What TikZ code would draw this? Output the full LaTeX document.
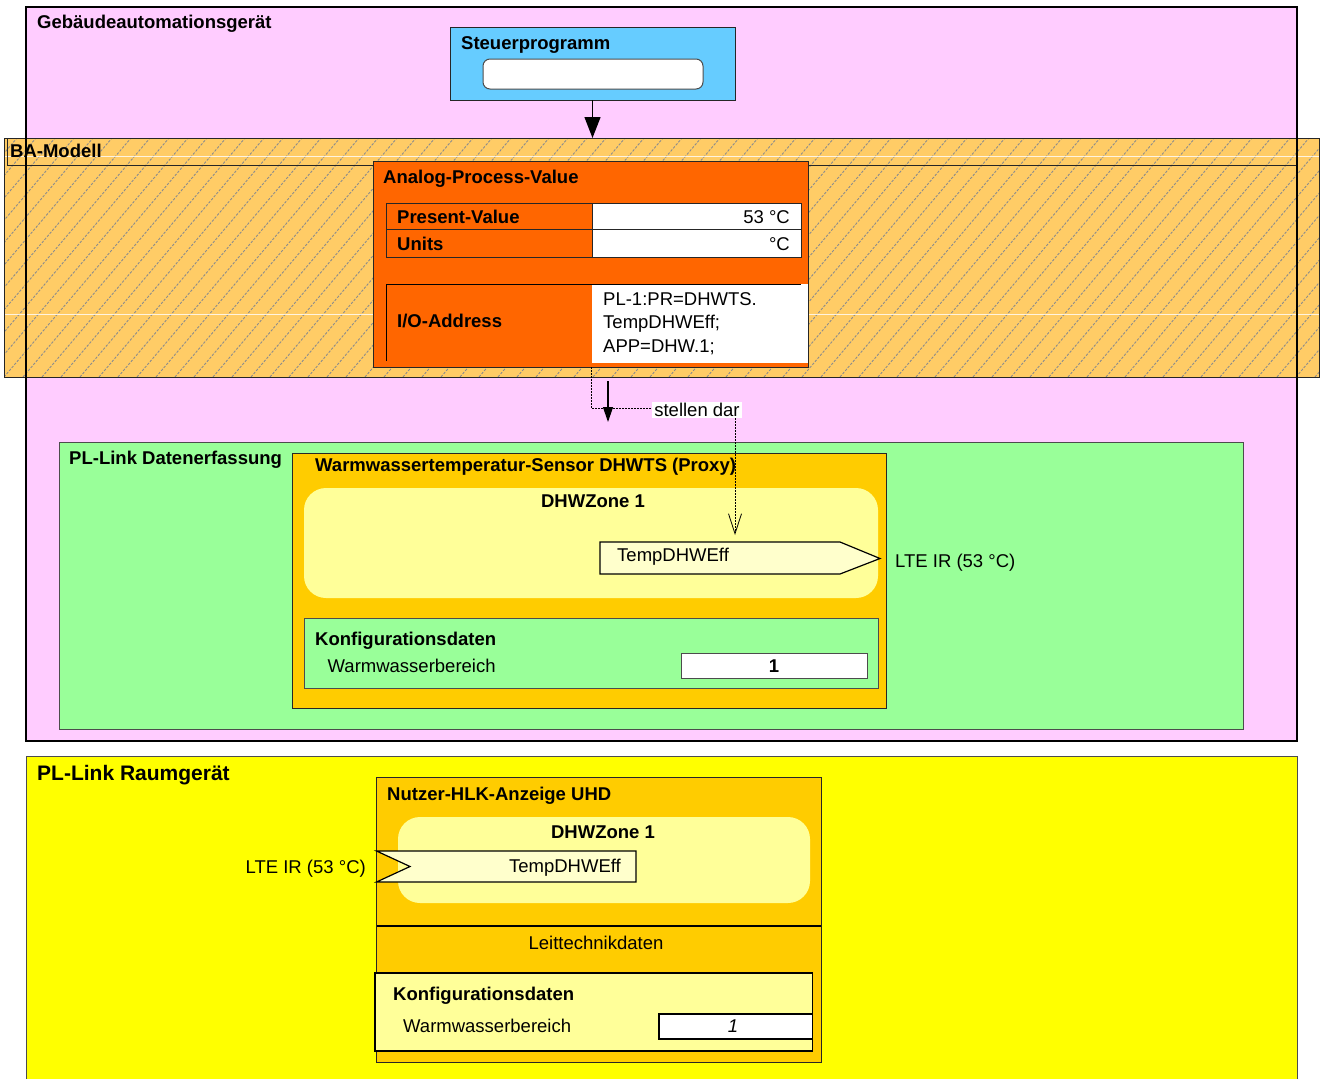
\documentclass[tikz,border=0pt]{standalone}
\usepackage{fontspec}
\setmainfont{Liberation Sans}
\usetikzlibrary{arrows.meta}
\definecolor{gapink}{HTML}{FFCCFF}
\definecolor{progblue}{HTML}{66CCFF}
\definecolor{bamorange}{HTML}{FFCC66}
\definecolor{apvorange}{HTML}{FF6600}
\definecolor{plgreen}{HTML}{99FF99}
\definecolor{devorange}{HTML}{FFCC00}
\definecolor{zoneyellow}{HTML}{FFFF99}
\definecolor{dpyellow}{HTML}{FFFFCC}
\definecolor{roomyellow}{HTML}{FFFF00}
\begin{document}
\begin{tikzpicture}[x=1pt,y=-1pt,
  font=\fontsize{18.5}{22}\selectfont,
  box/.style={draw=black!85, line width=1pt, inner sep=0pt, outer sep=0pt, anchor=north west},
  plain/.style={inner sep=0pt, outer sep=0pt, anchor=north west},
  txt/.style={inner sep=0pt, anchor=base west},
  btxt/.style={inner sep=0pt, anchor=base west, font=\fontsize{18.5}{22}\selectfont\bfseries},
  hatch/.style={draw=black!45, line width=0.9pt, dash pattern=on 2.5pt off 1.5pt},
  dp/.style={draw=black, line width=1.2pt, fill=dpyellow, line join=miter}]
\useasboundingbox (0,0) rectangle (1320,1079);

% ---------- building automation device ----------
\node[plain, fill=gapink, minimum width=1271pt, minimum height=734pt] (ga) at (26,7) {};
\node[btxt] (gatitle) at (37,28) {Gebäudeautomationsgerät};

% control program
\node[box, fill=progblue, minimum width=285pt, minimum height=73pt] (steuer) at (450,27) {};
\node[btxt] (steuertitle) at (461,49) {Steuerprogramm};
\node[box, draw=black!70, fill=white, rounded corners=7pt, minimum width=220pt, minimum height=30pt] (steuerslot) at (483,59) {};

% ---------- BA model band (hatched) ----------
\node[plain, fill=bamorange, minimum width=1315pt, minimum height=239pt] (bam) at (4,138) {};
\begin{scope}
  \clip (4,138) rectangle (1319,377);
  \foreach \i in {-300,-281,...,1320}
    \draw[hatch] (\i,377) -- ++(203,-239);
\end{scope}
\draw[white, opacity=0.8, line width=1pt] (4,156) -- (1319,156);
\draw[white, opacity=0.8, line width=1pt] (4,314) -- (1319,314);
\draw[black!85, line width=1pt] (bam.north west) rectangle (bam.south east);
\node[box, fill=none, minimum width=1290pt, minimum height=27pt] (bamhead) at (7,138) {};
\node[btxt] (bamtitle) at (10,157) {BA-Modell};

% outline of the device frame runs over the band
\draw[black, line width=1.2pt] (ga.north west) rectangle (ga.south east);

\draw[line width=1.3pt, -{Triangle[length=21pt,width=16pt]}] (steuer.south) -- (steuer.south |- bam.north);

% analog process value object
\node[box, fill=apvorange, minimum width=435pt, minimum height=206pt] (apv) at (373,161) {};
\node[btxt] (apvtitle) at (383,183) {Analog-Process-Value};
\node[box, fill=apvorange, minimum width=206pt, minimum height=26pt] (pvlab) at (386,203) {};
\node[box, fill=white, minimum width=209pt, minimum height=26pt] (pvval) at (592,203) {};
\node[box, fill=apvorange, minimum width=206pt, minimum height=28pt] (unlab) at (386,229) {};
\node[box, fill=white, minimum width=209pt, minimum height=28pt] (unval) at (592,229) {};
\node[btxt] at (397,223) {Present-Value};
\node[txt, anchor=base east] at (790,223) {53 °C};
\node[btxt] at (397,250) {Units};
\node[txt, anchor=base east] at (790,250) {°C};
\node[plain, fill=white, minimum width=216pt, minimum height=79pt] (ioval) at (592,284) {};
\draw[black, line width=1pt] (386,361) -- (386,284) -- (801,284);
\node[btxt] (iolab) at (397,327) {I/O-Address};
\node[txt] at (603,305) {PL-1:PR=DHWTS.};
\node[txt] at (603,328) {TempDHWEff;};
\node[txt] at (603,352) {APP=DHW.1;};

% ---------- PL-Link data acquisition ----------
\node[box, draw=black!70, fill=plgreen, minimum width=1184pt, minimum height=287pt] (pl) at (59,442) {};
\node[btxt] (pltitle) at (69,464) {PL-Link Datenerfassung};

\node[box, fill=devorange, minimum width=594pt, minimum height=255pt] (proxy) at (292,453) {};
\node[btxt] (proxytitle) at (315,471) {Warmwassertemperatur-Sensor DHWTS (Proxy)};
\node[plain, fill=zoneyellow, rounded corners=22pt, minimum width=574pt, minimum height=110pt] (zone1) at (304,488) {};
\node[btxt, anchor=base] at (593,507) {DHWZone 1};
\draw[dp] (600,542) -- (840,542) -- (880,558.5) -- (840,574) -- (600,574) -- cycle;
\coordinate (dpout) at (880,558.5);
\node[txt] (dpouttext) at (617,561) {TempDHWEff};
\node[txt] (ltetop) at (895,567) {LTE IR (53 °C)};

\node[box, draw=black!70, fill=plgreen, minimum width=573.5pt, minimum height=70pt] (konf1) at (304.5,618) {};
\node[btxt] at (315,645) {Konfigurationsdaten};
\node[txt] at (327.5,672) {Warmwasserbereich};
\node[box, draw=black!70, fill=white, minimum width=186pt, minimum height=25pt] (konf1val) at (681,653) {};
\node[btxt, anchor=base] at (774,672) {1};

% connectors between BA model and proxy
\coordinate (arrA) at (608,381);
\coordinate (arrB) at (608,422);
\draw[line width=1.3pt, -{Triangle[length=15pt,width=10pt]}] (arrA) -- (arrB);

\coordinate (dotA) at (591,367);
\coordinate (dotB) at (735,535);
\draw[line width=0.8pt, dash pattern=on 1.5pt off 1.5pt,
      -{Straight Barb[length=20pt,width=13pt,line width=0.8pt]}]
  (dotA) -- (591,408) -- (735,408) -- (dotB);
\node[fill=white, inner xsep=2pt, inner ysep=1.5pt] (reprlabel) at (697,410) {stellen dar};

% ---------- PL-Link room unit ----------
\node[box, draw=black!70, fill=roomyellow, minimum width=1271pt, minimum height=340pt] (room) at (26,756) {};
\node[inner sep=0pt, anchor=base west, font=\fontsize{21}{25}\selectfont\bfseries] (roomtitle) at (37,780) {PL-Link Raumgerät};

\node[box, fill=devorange, minimum width=444.5pt, minimum height=285pt] (uhd) at (376.5,777) {};
\node[btxt] (uhdtitle) at (387,800) {Nutzer-HLK-Anzeige UHD};
\node[plain, fill=zoneyellow, rounded corners=22pt, minimum width=412pt, minimum height=86pt] (zone2) at (398,817) {};
\node[btxt, anchor=base] at (603,838) {DHWZone 1};
\draw[dp] (376.5,851) -- (636,851) -- (636,882) -- (376.5,882) -- (410,866.5) -- cycle;
\coordinate (dpin) at (410,866.5);
\node[txt, anchor=base east] (dpintext) at (621,872) {TempDHWEff};
\node[txt, anchor=base east] (ltebottom) at (366,873) {LTE IR (53 °C)};

\draw[black, line width=1.2pt] (uhd.west |- 0,926) -- (uhd.east |- 0,926);
\node[txt, anchor=base] (ltd) at (596,949) {Leittechnikdaten};

\node[box, draw=black, line width=1.2pt, fill=zoneyellow, minimum width=437.5pt, minimum height=78pt] (konf2) at (375,973) {};
\node[btxt] at (393,1000) {Konfigurationsdaten};
\node[txt] at (403,1032) {Warmwasserbereich};
\node[box, draw=black, line width=1.2pt, fill=white, minimum width=153.5pt, minimum height=25pt] (konf2val) at (659,1014) {};
\node[txt, anchor=base, font=\fontsize{18.5}{22}\selectfont\itshape] at (733,1032) {1};

\end{tikzpicture}
\end{document}
